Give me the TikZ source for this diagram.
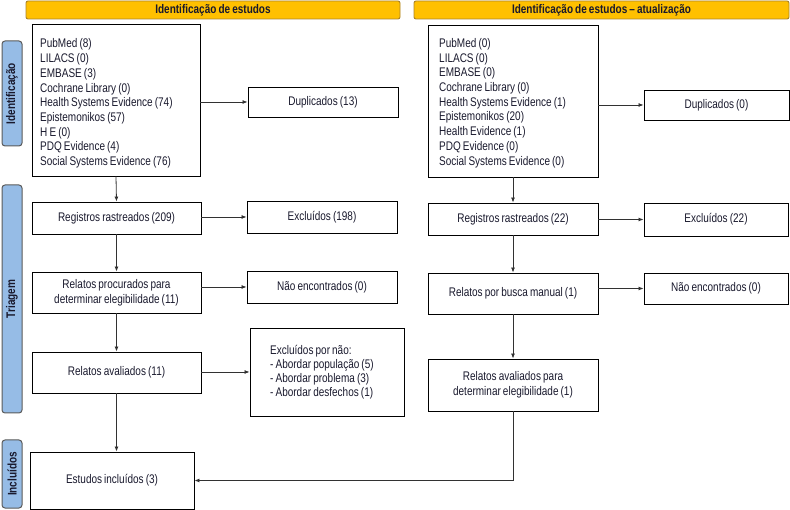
\documentclass[tikz,border=0pt]{standalone}
\usepackage{fontspec}
\setmainfont{Liberation Sans}[FakeStretch=0.8,WordSpace=0.75]
\usetikzlibrary{arrows.meta}
\definecolor{txt}{RGB}{25,25,45}
\definecolor{hdrfill}{RGB}{255,192,0}
\definecolor{hdrdraw}{RGB}{170,130,40}
\definecolor{sidefill}{RGB}{150,188,230}
\definecolor{sidedraw}{RGB}{90,90,90}
\definecolor{arrc}{RGB}{50,50,50}
\begin{document}
\begin{tikzpicture}[x=1pt,y=-1pt,
  box/.style={draw=black, line width=0.9pt, align=center, inner sep=0pt,
    font=\fontsize{12.5}{14.7}\selectfont, text=txt},
  ltxt/.style={align=left, inner sep=0pt, anchor=west,
    font=\fontsize{12.5}{14.7}\selectfont, text=txt},
  hdr/.style={draw=hdrdraw, fill=hdrfill, line width=0.9pt, rounded corners=2pt,
    inner sep=0pt, font=\bfseries\fontsize{12.5}{14}\selectfont, text=txt},
  side/.style={draw=sidedraw, fill=sidefill, line width=1pt, rounded corners=3pt,
    inner sep=0pt},
  sidetxt/.style={rotate=90, font=\bfseries\fontsize{12.5}{14}\selectfont, text=txt},
  arr/.style={-{Latex[length=5pt,width=4pt]}, draw=arrc, line width=0.8pt}]
\useasboundingbox (0,0) rectangle (790,510);

% headers
\node[hdr, minimum width=374pt, minimum height=18pt] (h1) at (213,10) {Identificação de estudos};
\node[hdr, minimum width=375pt, minimum height=18pt] (h2) at (601.5,10) {Identificação de estudos – atualização};

% side labels
\node[side, minimum width=20pt, minimum height=105pt] (s1) at (12,93.5) {};
\node[sidetxt] (s1t) at (s1.center) {Identificação};
\node[side, minimum width=20pt, minimum height=228pt] (s2) at (12,299) {};
\node[sidetxt] (s2t) at (s2.center) {Triagem};
\node[side, minimum width=20pt, minimum height=68pt] (s3) at (12,474) {};
\node[sidetxt] (s3t) at (s3.center) {Incluídos};

% left column
\node[box, minimum width=168pt, minimum height=152pt] (db1) at (116,100) {};
\node[ltxt] (db1t) at (40,103.5)
 {PubMed (8)\\LILACS (0)\\EMBASE (3)\\Cochrane Library (0)\\Health Systems Evidence (74)\\Epistemonikos (57)\\H E (0)\\PDQ Evidence (4)\\Social Systems Evidence (76)};
\node[box, minimum width=150pt, minimum height=30pt] (dup1) at (323,102) {Duplicados (13)};
\node[box, minimum width=169pt, minimum height=32pt] (reg1) at (116.5,218) {Registros rastreados (209)};
\node[box, minimum width=150pt, minimum height=32pt] (exc1) at (322,217) {Excluídos (198)};
\node[box, minimum width=169pt, minimum height=41pt] (rel1) at (116.5,292.5) {Relatos procurados para\\determinar elegibilidade (11)};
\node[box, minimum width=150pt, minimum height=32pt] (nao1) at (322,287) {Não encontrados (0)};
\node[box, minimum width=169pt, minimum height=41pt] (ava1) at (116.5,372.5) {Relatos avaliados (11)};
\node[box, minimum width=154pt, minimum height=88pt] (excp) at (327,372) {};
\node[ltxt, font=\fontsize{12.5}{14}\selectfont] (excpt) at (270,372)
 {Excluídos por não:\\- Abordar população (5)\\- Abordar problema (3)\\- Abordar desfechos (1)};
\node[box, minimum width=164pt, minimum height=57pt] (est) at (112,480.5) {Estudos incluídos (3)};

% right column
\node[box, minimum width=170pt, minimum height=152pt] (db2) at (513,101) {};
\node[ltxt] (db2t) at (439,103)
 {PubMed (0)\\LILACS (0)\\EMBASE (0)\\Cochrane Library (0)\\Health Systems Evidence (1)\\Epistemonikos (20)\\Health Evidence (1)\\PDQ Evidence (0)\\Social Systems Evidence (0)};
\node[box, minimum width=145pt, minimum height=30pt] (dup2) at (716.5,105) {Duplicados (0)};
\node[box, minimum width=170pt, minimum height=32pt] (reg2) at (513,219) {Registros rastreados (22)};
\node[box, minimum width=144pt, minimum height=33pt] (exc2) at (716,219.5) {Excluídos (22)};
\node[box, minimum width=170pt, minimum height=41pt] (rel2) at (513,293.5) {Relatos por busca manual (1)};
\node[box, minimum width=144pt, minimum height=31pt] (nao2) at (716,288.5) {Não encontrados (0)};
\node[box, minimum width=170pt, minimum height=52pt] (ava2) at (513,385) {Relatos avaliados para\\determinar elegibilidade (1)};

% arrows left
\draw[arr] (db1.east |- dup1.west) -- (dup1.west);
\draw[arr] (db1.south) -- (reg1.north);
\draw[arr] (reg1.east |- exc1.west) -- (exc1.west);
\draw[arr] (reg1.south) -- (rel1.north);
\draw[arr] (rel1.east |- nao1.west) -- (nao1.west);
\draw[arr] (rel1.south) -- (ava1.north);
\draw[arr] (ava1.east |- excp.west) -- (excp.west);
\draw[arr] (ava1.south) -- (ava1.south |- est.north);

% arrows right
\draw[arr] (db2.east |- dup2.west) -- (dup2.west);
\draw[arr] (db2.south) -- (reg2.north);
\draw[arr] (reg2.east |- exc2.west) -- (exc2.west);
\draw[arr] (reg2.south) -- (rel2.north);
\draw[arr] (rel2.east |- nao2.west) -- (nao2.west);
\draw[arr] (rel2.south) -- (ava2.north);
\draw[arr] (ava2.south) -- (ava2.south |- est.east) -- (est.east);
\end{tikzpicture}
\end{document}
